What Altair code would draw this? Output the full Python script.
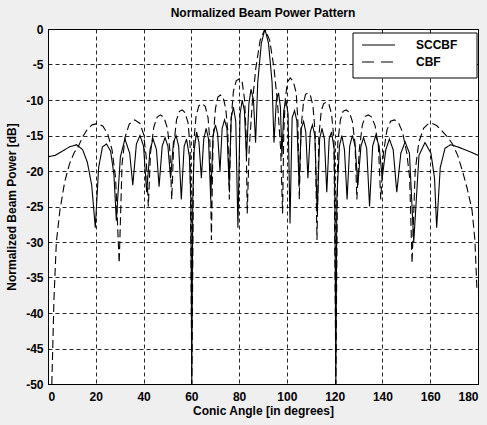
import altair as alt
import pandas as pd

# ---- data ----
sccbf_angle = [0, 3, 6, 9, 12, 14.5, 16.5, 18.3, 19.8, 21.2, 22.8, 24.5, 26.2, 27.6, 28.6,
               30.3, 32.2, 34.2, 35.5, 37.0, 38.5, 40.0, 41.3, 42.7, 44.0, 45.4, 46.5,
               47.8, 49.0, 50.2, 51.3, 52.5, 53.6, 54.7, 55.8, 57.0, 58.0, 59.2, 59.8, 60.2, 60.6,
               61.2, 62.2, 63.2, 64.2, 65.2, 66.2, 67.2, 68.1, 69.1, 70.1, 71.0, 72.0,
               72.9, 73.9, 74.9, 75.8, 76.7, 77.6, 78.6, 79.5, 80.4, 81.3, 82.2, 83.1,
               84.1, 85.0, 86.0, 86.9, 87.8, 89.3, 90.8, 92.3, 93.8, 94.6, 95.6, 96.5,
               97.3, 97.9, 98.7, 99.6, 100.5, 101.3, 102.2, 103.2, 104.2, 105.1, 106.0,
               107.0, 107.9, 108.8, 109.8, 110.7, 111.7, 112.7, 113.7, 114.7, 115.7, 116.7,
               117.7, 118.7, 119.8, 120.1, 120.5, 120.9, 122.0, 123.0, 124.1, 125.2, 126.3,
               127.4, 128.6, 129.7, 131.0, 132.1, 133.4, 134.6, 135.9, 137.2, 138.6, 139.9,
               141.4, 142.9, 144.5, 146.0, 147.7, 149.5, 151.3, 153.1, 155.3, 157.8, 160.3,
               161.8, 162.7, 164.2, 166.2, 168.5, 171.5, 174.5, 177.5, 180]
sccbf_db = [-18.0, -17.8, -17.2, -16.6, -16.3, -17.0, -18.8, -22, -28, -19.5, -16.6, -16.2, -17.2, -20.5, -27,
            -18, -15.5, -17.5, -22, -16.2, -15.0, -16.5, -23, -17, -15.5, -17, -22.2,
            -16.5, -15.3, -16.5, -21, -16, -15, -16.5, -24, -16.5, -15.5, -18, -24, -50, -24,
            -17, -14.5, -16, -21, -15.5, -14, -15.5, -24, -15, -13.5, -14.8, -20,
            -14, -12.8, -14, -22, -12.5, -11, -13, -28, -12, -10, -11.5, -18,
            -10.5, -8.5, -10, -16, -7.5, -2, 0, -2, -7.5, -16, -10, -9,
            -11, -18, -11.5, -10, -12, -27.4, -12.5, -11.5, -13, -22, -14,
            -13, -14.5, -21, -14.5, -13.5, -15, -26, -15.5, -14, -15.5, -23,
            -15.5, -14.5, -17, -24, -50, -24, -16.5, -15, -17, -24, -16.5,
            -15, -16.5, -22, -16.5, -15.3, -16.8, -25, -16.5, -15, -16.5, -21,
            -17, -15.5, -17, -23, -17.5, -15.9, -17.5, -30, -17.8, -16.0, -17.5,
            -21, -28, -19.5, -16.8, -16.3, -16.6, -17.0, -17.4, -17.8]

cbf_angle = [1.6, 2.5, 3.5, 5.0, 7.0, 9.0, 11.0, 12.6, 14.5, 16.5, 18.5, 20.8, 23.0, 25.0,
             26.8, 28.3, 29.8, 31.0, 32.3, 34.0, 36.3, 38.5, 40.0, 41.1, 42.0, 42.9, 44.3,
             45.7, 47.1, 48.6, 50.0, 51.0, 51.8, 52.6, 53.8, 55.0, 56.2, 57.4, 58.6, 59.5,
             60.2, 61.0, 62.0, 63.2, 64.5, 65.8, 67.0, 67.8, 68.4, 69.1, 70.1, 71.1, 72.2,
             73.3, 74.4, 75.3, 75.9, 76.6, 77.6, 78.8, 80.1, 81.3, 82.3, 82.9, 83.4, 84.2,
             85.5, 87.0, 88.8, 90.8, 92.8, 94.6, 96.1, 97.4, 98.2, 98.7, 99.3, 100.2, 101.4,
             102.7, 103.9, 104.6, 105.2, 105.9, 106.9, 107.8, 108.8, 109.8, 110.9, 111.8,
             112.6, 113.4, 114.4, 115.4, 116.5, 117.6, 118.7, 119.7, 120.5, 121.3, 122.4,
             123.5, 124.8, 126.1, 127.4, 128.5, 129.3, 130.3, 131.6, 132.8, 134.1, 135.5,
             136.9, 138.3, 139.3, 140.4, 141.9, 143.4, 145.0, 146.7, 148.4, 150.2, 151.4,
             152.4, 153.7, 155.2, 157.2, 159.0, 160.7, 162.7, 165.0, 167.5, 169.5, 171.5,
             173.5, 175.5, 177.5, 178.7, 179.6]
cbf_db = [-50, -38, -30, -25.5, -21.5, -19, -17.4, -16.6, -15.2, -14.1, -13.5, -13.3, -13.7, -14.8,
          -17, -21, -33, -19, -15.2, -13.4, -12.8, -13.3, -14.8, -18, -25, -17.5, -13.8,
          -12.4, -12.1, -12.5, -14, -17, -24, -16.5, -12.8, -11.6, -11.4, -11.8, -13.2, -16.5,
          -50, -16, -12.2, -10.8, -10.5, -10.9, -12.5, -16, -29.7, -15.5, -11.2, -9.6, -9.3,
          -9.6, -11.2, -14.5, -24, -13, -8.8, -7.3, -7.0, -7.5, -10, -14.5, -26, -17,
          -10.5, -5.5, -1.6, 0, -1.6, -5.5, -10.5, -17, -26, -14.5, -10, -7.5, -6.9,
          -7.4, -9, -13, -24, -14, -10.5, -9.2, -9.0, -9.3, -10.8, -14.5,
          -29.7, -15, -11.5, -10.5, -10.3, -10.6, -12, -15.5, -50, -16, -12.8,
          -11.6, -11.4, -11.7, -13, -16, -24, -17, -13.5, -12.3, -12.1, -12.4,
          -13.6, -16.5, -24, -17.5, -14.2, -13.0, -12.8, -13.2, -14.5, -17.5, -21,
          -33, -20, -16, -14, -13.4, -13.3, -13.6, -14.4, -15.3, -16.3, -17.8,
          -20, -22.5, -25.5, -29.7, -37]

series_names = ["SCCBF", "CBF"]
x_ticks = [0, 20, 40, 60, 80, 100, 120, 140, 160, 180]
y_ticks = [-50, -45, -40, -35, -30, -25, -20, -15, -10, -5, 0]

df = pd.concat([
    pd.DataFrame({"angle": sccbf_angle, "db": sccbf_db, "series": series_names[0], "order": range(len(sccbf_angle))}),
    pd.DataFrame({"angle": cbf_angle, "db": cbf_db, "series": series_names[1], "order": range(len(cbf_angle))}),
], ignore_index=True)

FONT = "Liberation Sans"

x_enc = alt.X("angle:Q",
              scale=alt.Scale(domain=[0, 180], nice=False, zero=False),
              axis=alt.Axis(values=x_ticks, title="Conic Angle [in degrees]",
                            grid=True, ticks=False, labelPadding=7, titlePadding=3,
                            labelFontSize=12, titleFontSize=12))
y_enc = alt.Y("db:Q",
              scale=alt.Scale(domain=[-50, 0], nice=False, zero=False),
              axis=alt.Axis(values=y_ticks, title="Normalized Beam Power [dB]",
                            grid=True, ticks=False, labelPadding=5, titlePadding=7,
                            labelExpr="'' + datum.value",
                            labelFontSize=12, titleFontSize=12))

lines = alt.Chart(df).mark_line(color="black", strokeWidth=1.1, clip=True).encode(
    x=x_enc, y=y_enc,
    order="order:Q",
    detail="series:N",
    strokeDash=alt.StrokeDash("series:N",
                              scale=alt.Scale(domain=series_names, range=[[1, 0], [8, 4]]),
                              legend=None),
)

one = pd.DataFrame({"a": [0]})
box = alt.Chart(one).mark_rect(fill="white", stroke="black", strokeWidth=1).encode(
    x=alt.value(305), x2=alt.value(429), y=alt.value(4), y2=alt.value(49))
leg1 = alt.Chart(one).mark_rule(color="black", strokeWidth=1.1).encode(
    x=alt.value(314), x2=alt.value(347), y=alt.value(16))
leg2 = alt.Chart(one).mark_rule(color="black", strokeWidth=1.1, strokeDash=[12, 7]).encode(
    x=alt.value(314), x2=alt.value(347), y=alt.value(33))
txt1 = alt.Chart(one).mark_text(align="left", baseline="middle", fontSize=12, font=FONT,
                                fontWeight="bold", color="black").encode(
    x=alt.value(368), y=alt.value(16), text=alt.value(series_names[0]))
txt2 = alt.Chart(one).mark_text(align="left", baseline="middle", fontSize=12, font=FONT,
                                fontWeight="bold", color="black").encode(
    x=alt.value(368), y=alt.value(33), text=alt.value(series_names[1]))

chart = alt.layer(lines, box, leg1, leg2, txt1, txt2).properties(
    width=430, height=355,
    title=alt.TitleParams("Normalized Beam Power Pattern", fontSize=12, font=FONT,
                          fontWeight="bold", offset=3, anchor="middle", color="black"),
    autosize=alt.AutoSizeParams(type="none"),
    padding={"left": 48, "top": 29, "right": 9, "bottom": 41},
    background="#efefef",
).configure_view(
    fill="white", stroke="black", strokeWidth=1
).configure_axis(
    labelFont=FONT, titleFont=FONT, labelColor="black", titleColor="black",
    labelFontWeight="bold", titleFontWeight="bold", domain=True, domainColor="black",
    gridColor="black", gridDash=[4, 3], gridOpacity=0.85, gridWidth=1,
)

chart.save("out.html", embed_options={"renderer": "svg", "actions": False})
